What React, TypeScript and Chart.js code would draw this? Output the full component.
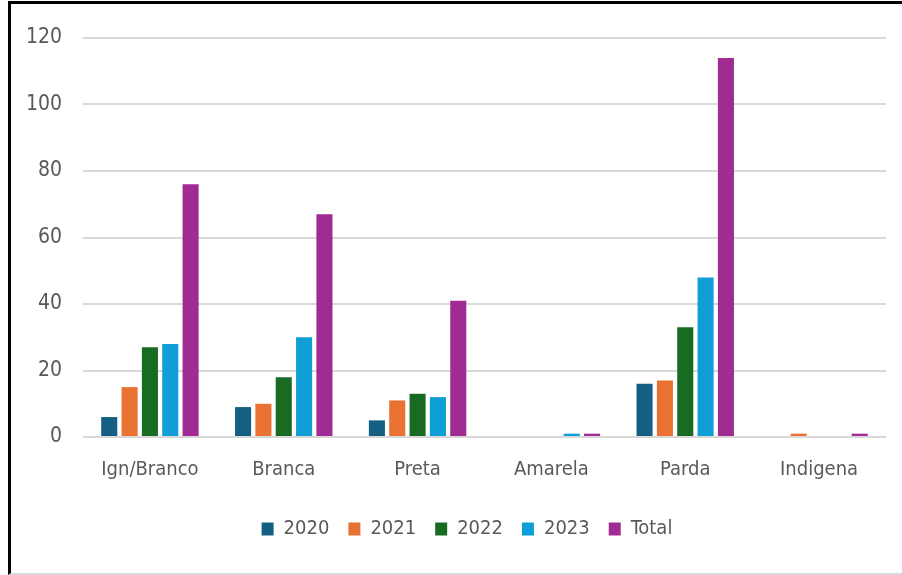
import React, { useEffect, useRef } from "react";
import { Chart, registerables } from "chart.js";

Chart.register(...registerables);

const categories = ["Ign/Branco", "Branca", "Preta", "Amarela", "Parda", "Indigena"];
const series2020 = [6, 9, 5, 0, 16, 0];
const series2021 = [15, 10, 11, 0, 17, 1];
const series2022 = [27, 18, 13, 0, 33, 0];
const series2023 = [28, 30, 12, 1, 48, 0];
const seriesTotal = [76, 67, 41, 1, 114, 1];
const seriesLabels = ["2020", "2021", "2022", "2023", "Total"];
const seriesColors = ["#156082", "#E97132", "#196B24", "#0F9ED5", "#A02B93"];

const FONT = "'Liberation Sans Narrow', 'Arial Narrow', 'DejaVu Sans Condensed', 'Liberation Sans', sans-serif";

const legendShift = {
  id: "legendShift",
  afterLayout(chart: any) {
    if (chart.legend) {
      chart.legend.left += 24;
      chart.legend.right += 24;
    }
  },
};

export default function App() {
  const ref = useRef<HTMLCanvasElement | null>(null);

  useEffect(() => {
    if (!ref.current) return;
    const values = [series2020, series2021, series2022, series2023, seriesTotal];
    const chart = new Chart(ref.current, {
      type: "bar",
      data: {
        labels: categories,
        datasets: values.map((v, i) => ({
          label: seriesLabels[i],
          data: v,
          backgroundColor: seriesColors[i],
          borderWidth: 0,
          categoryPercentage: 0.76,
          barPercentage: 0.79,
        })),
      },
      plugins: [legendShift],
      options: {
        animation: false,
        responsive: false,
        maintainAspectRatio: false,
        layout: { padding: { left: 0, right: 16, top: 38, bottom: 26 } },
        plugins: {
          tooltip: { enabled: false },
          legend: {
            position: "bottom",
            labels: {
              boxWidth: 12,
              boxHeight: 13,
              padding: 19,
              color: "#595959",
              font: { family: FONT, size: 20 },
            },
          },
        },
        scales: {
          x: {
            grid: { display: false, drawTicks: false },
            border: { display: false },
            ticks: { color: "#595959", font: { family: FONT, size: 20 }, padding: 21, maxRotation: 0 },
            afterFit: (scale: any) => {
              scale.height = 63;
            },
          },
          y: {
            min: 0,
            max: 120,
            grid: { color: "#d9d9d9", lineWidth: 2, drawTicks: false },
            border: { display: false },
            ticks: { stepSize: 20, color: "#595959", font: { family: FONT, size: 21 }, padding: 21 },
            afterFit: (scale: any) => {
              scale.width = 83;
            },
          },
        },
      },
    });
    return () => chart.destroy();
  }, []);

  return (
    <div style={{ position: "fixed", left: 0, top: 0, width: 902, height: 575, background: "#fff", overflow: "hidden" }}>
      <div
        style={{
          position: "absolute",
          left: 8,
          top: 1,
          width: 920,
          height: 574,
          boxSizing: "border-box",
          borderTop: "3px solid #000",
          borderLeft: "3px solid #000",
          borderBottom: "2px solid #d9d9d9",
        }}
      />
      <canvas ref={ref} width={902} height={575} style={{ position: "absolute", left: 0, top: 0 }} />
    </div>
  );
}
